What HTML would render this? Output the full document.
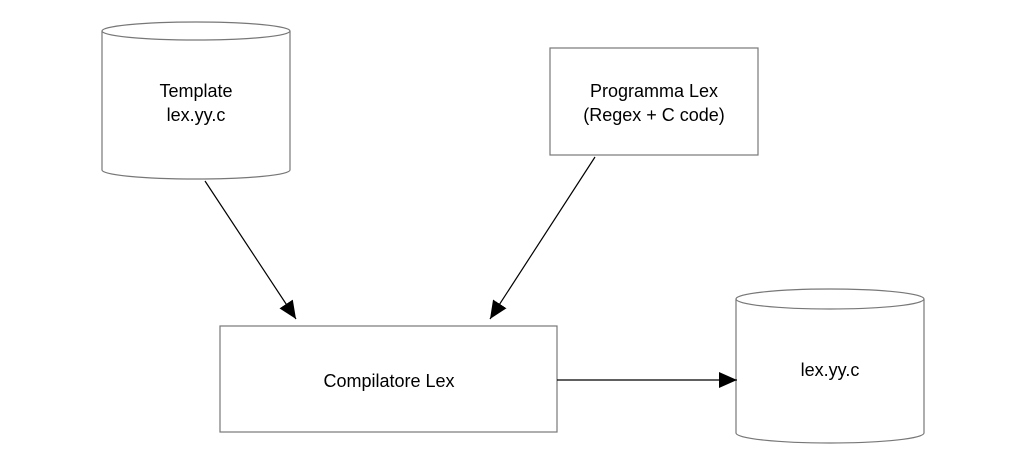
<!DOCTYPE html>
<html><head><style>body{margin:0;background:#fff}svg{display:block}</style></head><body>
<svg width="1012" height="462" xmlns="http://www.w3.org/2000/svg" font-family="Liberation Sans, sans-serif" font-size="18">
<defs><marker id="b" markerWidth="20" markerHeight="16" refX="18" refY="8" orient="auto" markerUnits="userSpaceOnUse"><path d="M0,0 L18,8 L0,16 z" fill="#000"/></marker></defs>
<g fill="#fff" stroke="#777" stroke-width="1.2">
<path d="M102,31 L102,170 A94,9 0 0 0 290,170 L290,31"/>
<ellipse cx="196" cy="31" rx="94" ry="9"/>
<rect x="550" y="48" width="208" height="107"/>
<rect x="220" y="326" width="337" height="106"/>
<path d="M736,299 L736,433 A94,10 0 0 0 924,433 L924,299"/>
<ellipse cx="830" cy="299" rx="94" ry="10"/>
</g>
<g stroke="#000" stroke-width="1.2" fill="none">
<line x1="205" y1="181" x2="296" y2="319" marker-end="url(#b)"/>
<line x1="595" y1="157" x2="490" y2="319" marker-end="url(#b)"/>
<line x1="557" y1="380" x2="737" y2="380" marker-end="url(#b)"/>
</g>
<g text-anchor="middle" fill="#000">
<text x="196" y="97">Template</text><text x="196" y="121">lex.yy.c</text>
<text x="654" y="97">Programma Lex</text><text x="654" y="121">(Regex + C code)</text>
<text x="389" y="387">Compilatore Lex</text>
<text x="830" y="376">lex.yy.c</text>
</g>
</svg>
</body></html>
